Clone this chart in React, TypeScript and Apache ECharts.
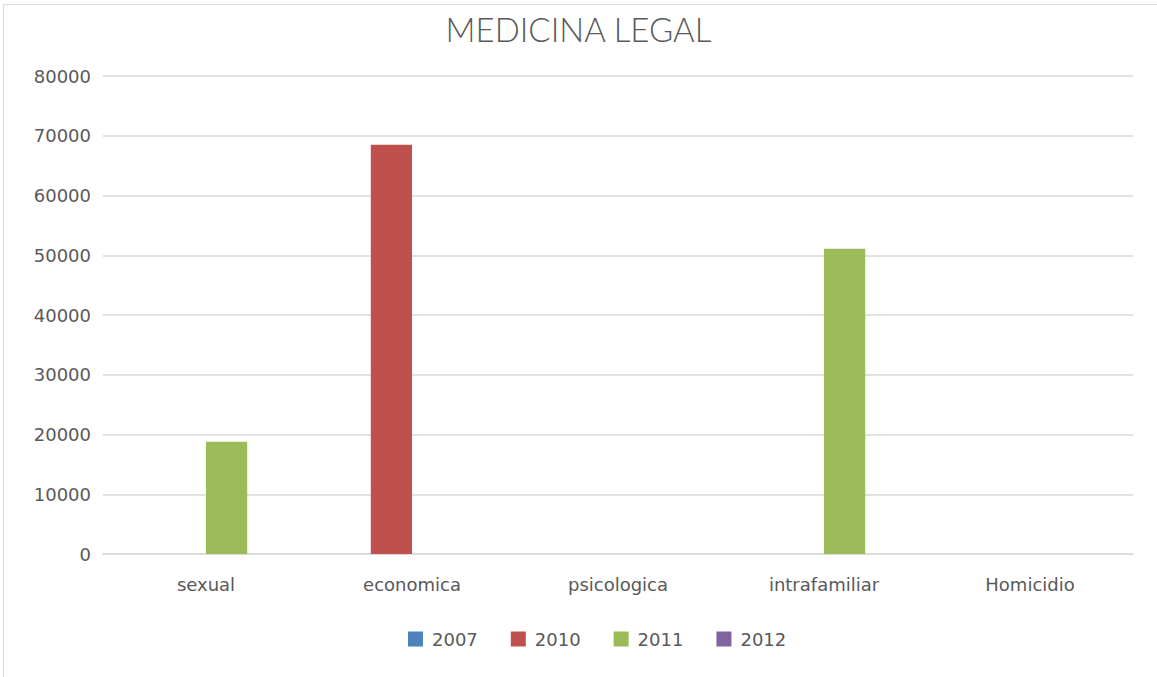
import React, { useEffect, useRef } from "react";
import * as echarts from "echarts";

const categories = ["sexual", "economica", "psicologica", "intrafamiliar", "Homicidio"];
const seriesNames = ["2007", "2010", "2011", "2012"];
const values2007 = [0, 0, 0, 0, 0];
const values2010 = [0, 68500, 0, 0, 0];
const values2011 = [18800, 0, 0, 51100, 0];
const values2012 = [0, 0, 0, 0, 0];
const colors = ["#4F81BD", "#C0504D", "#9BBB59", "#8064A2"];

export default function App() {
  const ref = useRef<HTMLDivElement>(null);
  useEffect(() => {
    const chart = echarts.init(ref.current!, undefined, { renderer: "svg" });
    const font = "'DejaVu Sans', sans-serif";
    const allValues = [values2007, values2010, values2011, values2012];
    chart.setOption({
      animation: false,
      backgroundColor: "#ffffff",
      textStyle: { fontFamily: font },
      title: {
        text: "MEDICINA LEGAL",
        left: "center",
        top: 7,
        textStyle: { fontFamily: "Lato, sans-serif", fontSize: 33, fontWeight: 300, color: "#595959" },
      },
      legend: {
        bottom: 24,
        left: 403,
        itemWidth: 15,
        itemHeight: 15,
        itemGap: 33,
        icon: "rect",
        textStyle: { fontFamily: font, fontSize: 18, color: "#595959", padding: [0, 0, 0, 4] },
        data: seriesNames,
      },
      grid: { left: 103, right: 24, top: 76, bottom: 123, containLabel: false },
      xAxis: {
        type: "category",
        data: categories,
        axisLine: { show: true, lineStyle: { color: "#d9d9d9", width: 1.5 } },
        axisTick: { show: false },
        axisLabel: { fontFamily: font, fontSize: 18, color: "#595959", margin: 21 },
      },
      yAxis: {
        type: "value",
        min: 0,
        max: 80000,
        interval: 10000,
        axisLine: { show: false },
        axisTick: { show: false },
        splitLine: { lineStyle: { color: "#d9d9d9", width: 1.5 } },
        axisLabel: {
          fontFamily: font,
          fontSize: 18,
          color: "#595959",
          margin: 12,
          formatter: (v: number) => String(v),
        },
      },
      graphic: [
        {
          type: "rect",
          shape: { x: 3.5, y: 4.5, width: 1180, height: 700 },
          style: { fill: "none", stroke: "#d9d9d9", lineWidth: 1 },
          silent: true,
        },
      ],
      series: seriesNames.map((name, i) => ({
        name,
        type: "bar",
        data: allValues[i],
        barGap: "0%",
        barCategoryGap: "20%",
        itemStyle: { color: colors[i] },
      })),
    });
    return () => chart.dispose();
  }, []);
  return (
    <div
      ref={ref}
      style={{ position: "fixed", left: 0, top: 0, width: 1157, height: 677 }}
    />
  );
}
